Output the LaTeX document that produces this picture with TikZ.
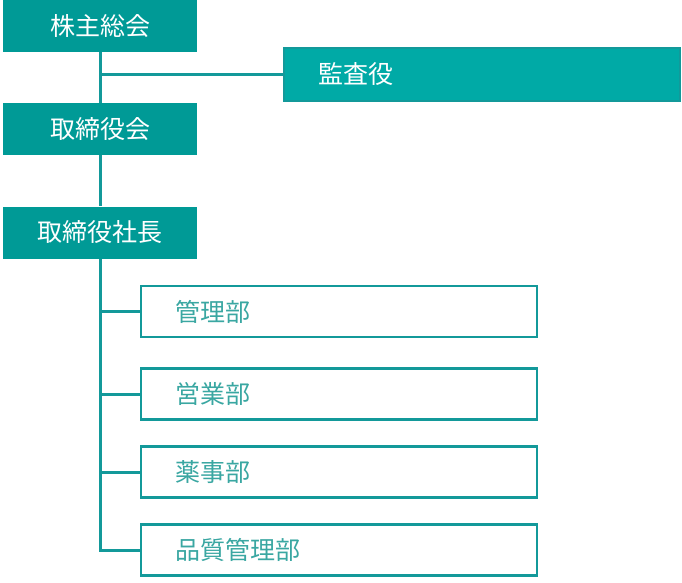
\documentclass[tikz,border=0pt]{standalone}
\usepackage{fontspec}
\setmainfont{Noto Sans CJK JP}
\usepackage{xcolor}
\usepackage{tikz}
\usetikzlibrary{positioning}
\definecolor{orgteal}{HTML}{009A96}
\definecolor{orgtealhi}{HTML}{00AAA6}
\definecolor{orgline}{HTML}{13999A}
\definecolor{orgtext}{HTML}{3AA7A2}

\begin{document}
\begin{tikzpicture}[x=1pt, y=1pt,
      top/.style={fill=orgteal, text=white, inner sep=0pt,
                  minimum width=194pt, minimum height=52pt,
                  font=\fontsize{25}{30}\selectfont},
      aud/.style={draw=orgline, line width=2pt, fill=orgtealhi, text=white,
                  inner xsep=34pt, text width=328pt, minimum height=53pt,
                  align=left, font=\fontsize{25}{30}\selectfont},
      dept/.style={draw=orgline, line width=2.5pt, fill=white, text=orgtext,
                  inner xsep=34pt, text width=328pt, minimum height=51pt,
                  align=left, font=\fontsize{25}{30}\selectfont},
      link/.style={draw=orgline, line width=3pt}
  ]
    \useasboundingbox (0,0) rectangle (682,-582);
    \node[top] (soukai) at (100,-26) {株主総会};
    \node[aud] (kansa) at (482,-74.5) {監査役};
    \node[top] (torikai) at (100,-129) {取締役会};
    \node[top] (shachou) at (100,-232.5) {取締役社長};
    \node[dept] (kanri) at (339,-311.5) {管理部};
    \node[dept] (eigyou) at (339,-394) {営業部};
    \node[dept] (yakuji) at (339,-472) {薬事部};
    \node[dept] (hinshitsu) at (339,-550) {品質管理部};
    \draw[link] (soukai.south) -- (torikai.north);
    \draw[link] (kansa.west) -- (kansa.west -| soukai.south);
    \draw[link] (torikai.south) -- (shachou.north);
    \draw[link] (shachou.south) |- (hinshitsu.west);
    \foreach \d in {kanri, eigyou, yakuji}
      \draw[link] (\d.west) -- (\d.west -| shachou.south);
  \end{tikzpicture}
\end{document}
